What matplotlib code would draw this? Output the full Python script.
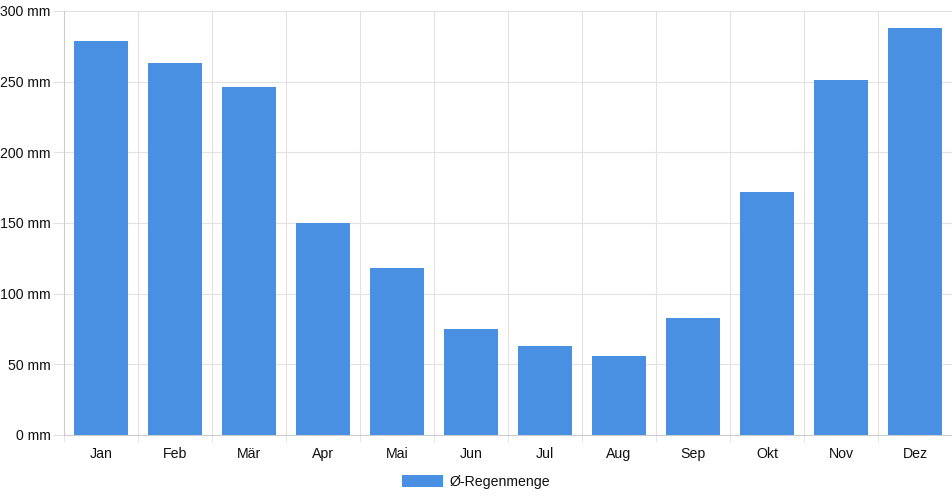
import numpy as np
import matplotlib.pyplot as plt
from matplotlib.patches import Patch
from matplotlib.ticker import FuncFormatter

plt.rcParams['font.family'] = ['Liberation Sans', 'DejaVu Sans']

months = ["Jan", "Feb", "Mär", "Apr", "Mai", "Jun", "Jul", "Aug", "Sep", "Okt", "Nov", "Dez"]
rain_mm = [279, 263, 246, 150, 118, 75, 63, 56, 83, 172, 251, 288]
yticks = [0, 50, 100, 150, 200, 250, 300]

bar_color = "#4a90e2"
grid_color = "#e2e2e2"
text_color = "#111111"
fsize = 10.2

fig = plt.figure(figsize=(9.52, 5.0), dpi=100)
ax = fig.add_axes([64 / 952, 65 / 500, 888 / 952, 424 / 500])

x = np.arange(len(months))
ax.bar(x, rain_mm, width=0.72, color=bar_color, zorder=3, label="Ø-Regenmenge")

ax.set_xlim(-0.5, len(months) - 0.5)
ax.set_ylim(0, 300)

ax.set_xticks(x)
ax.set_xticklabels(months)
ax.set_xticks(np.arange(len(months) + 1) - 0.5, minor=True)
ax.tick_params(axis="x", which="major", length=0, pad=8.5, labelsize=fsize, labelcolor=text_color)
ax.tick_params(axis="x", which="minor", length=5, color=grid_color)
ax.grid(axis="x", which="minor", color=grid_color, linewidth=0.8, zorder=0)

ax.set_yticks(yticks)
ax.yaxis.set_major_formatter(FuncFormatter(lambda v, p: f"{int(v)} mm"))
ax.tick_params(axis="y", length=8, color=grid_color, labelsize=fsize, labelcolor=text_color, pad=1.5)
ax.grid(axis="y", color=grid_color, linewidth=0.8, zorder=0)

for side in ["top", "right"]:
    ax.spines[side].set_visible(False)
ax.spines["left"].set_color("#cccccc")
ax.spines["bottom"].set_color("#cccccc")

handle = Patch(facecolor=bar_color, edgecolor="none")
fig.legend([handle], ["Ø-Regenmenge"], loc="center", bbox_to_anchor=(476 / 952, 1 - 482 / 500),
           frameon=False, fontsize=fsize, handlelength=2.9, handleheight=0.95, handletextpad=0.5,
           labelcolor=text_color)

fig.savefig("out.png", dpi=100)
